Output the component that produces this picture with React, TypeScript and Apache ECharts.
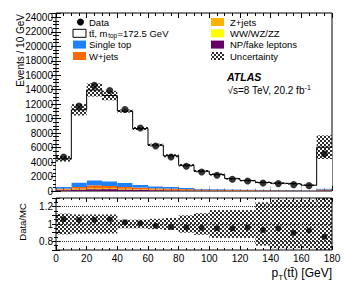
import React, { useEffect, useRef } from "react";
import * as echarts from "echarts";

const binEdges = [0, 10, 20, 30, 40, 50, 60, 70, 80, 90, 100, 110, 120, 130, 140, 150, 160, 170, 180];
const dataEvents = [4700, 11740, 14600, 13900, 11270, 8700, 6220, 4700, 3410, 2620, 2170, 1620, 1380, 1100, 1020, 880, 740, 5160];
const ttbar = [3900, 10060, 12480, 11850, 9940, 7800, 5700, 4320, 3130, 2440, 2020, 1475, 1240, 1000, 915, 840, 680, 5720];
const singleTop = [220, 610, 690, 650, 560, 360, 280, 220, 170, 100, 90, 80, 70, 70, 60, 50, 40, 122];
const wJets = [140, 235, 400, 300, 245, 238, 180, 172, 124, 95, 81, 76, 64, 52, 50, 48, 45, 60];
const zJets = [60, 100, 120, 110, 90, 70, 60, 50, 40, 30, 25, 20, 18, 15, 12, 10, 8, 40];
const diboson = [10, 15, 20, 20, 15, 12, 10, 8, 6, 5, 4, 4, 3, 3, 3, 2, 2, 8];
const npFake = [120, 200, 250, 260, 200, 150, 120, 100, 80, 70, 60, 50, 45, 40, 35, 30, 25, 100];
const mcRelUnc = [0.085, 0.07, 0.065, 0.05, 0.02, 0.025, 0.03, 0.045, 0.05, 0.06, 0.07, 0.07, 0.07, 0.1, 0.12, 0.12, 0.12, 0.27];
const ratioRelUnc = [0.12, 0.11, 0.11, 0.11, 0.05, 0.05, 0.06, 0.07, 0.1, 0.125, 0.16, 0.16, 0.16, 0.25, 0.28, 0.28, 0.28, 0.4];
const ratioTickLabels = ["0.8", "1", "1.2"];

const categories = binEdges.slice(0, -1).map((e, i) => `${e}-${binEdges[i + 1]}`);

const COL_SINGLE = "#1f80ff";
const COL_W = "#ff6a00";
const COL_Z = "#ffb200";
const COL_VV = "#ffff00";
const COL_NP = "#660066";
const FONT = "Liberation Sans, Arial, DejaVu Sans, sans-serif";

function makeHatch() {
  const c = document.createElement("canvas");
  c.width = 4;
  c.height = 4;
  const ctx = c.getContext("2d")!;
  ctx.fillStyle = "rgba(0,0,0,0.82)";
  ctx.fillRect(0, 0, 2, 2);
  ctx.fillRect(2, 2, 2, 2);
  return { image: c.toDataURL(), repeat: "repeat", imageWidth: 4, imageHeight: 4 };
}

export default function App() {
  const ref = useRef<HTMLDivElement>(null);
  useEffect(() => {
    if (!ref.current) return;
    const chart = echarts.init(ref.current, undefined, { renderer: "svg" });
    const hatch: any = makeHatch();
    const mcTotal = ttbar.map((t, i) => t + singleTop[i] + wJets[i] + zJets[i] + diboson[i] + npFake[i]);
    const ratio = dataEvents.map((d, i) => d / mcTotal[i]);
    const stepData: number[][] = mcTotal.map((v, i) => [binEdges[i], v]);
    stepData.push([binEdges[binEdges.length - 1], mcTotal[mcTotal.length - 1]]);

    const tickCommon = (len: number, mlen: number, split: number) => ({
      axisTick: { show: true, inside: true, length: len, lineStyle: { color: "#000", width: 1 } },
      minorTick: { show: true, splitNumber: split, length: mlen, lineStyle: { color: "#000", width: 1 } },
      splitLine: { show: false },
      axisLine: { show: false },
    });
    const hiddenCat = (grid: number) => ({
      type: "category", gridIndex: grid, data: categories, show: false, boundaryGap: true,
    });
    const xVal = (grid: number, pos: string, labels: boolean, len: number, mlen: number) => ({
      type: "value", gridIndex: grid, position: pos, min: 0, max: 180, interval: 20,
      ...tickCommon(len, mlen, 4),
      axisLabel: { show: labels, color: "#000", fontSize: 10, fontFamily: FONT, margin: 3 },
    });
    const barBase = (name: string, data: number[], color: any, stack: string, xi: number, yi: number) => ({
      name, type: "bar", data, stack, xAxisIndex: xi, yAxisIndex: yi,
      barCategoryGap: "0%", barWidth: "100%", itemStyle: { color }, silent: true,
    });

    const legendRows = [22, 33.3, 44.6, 56];
    const lx = 73, rx = 211, bw = 13, bh = 8;
    const txt = (x: number, y: number, text: string, extra: any = {}) => ({
      type: "text", x, y,
      style: { text, fill: "#000", font: `9.5px ${FONT}`, textVerticalAlign: "middle", ...extra },
    });
    const box = (x: number, y: number, fill: any, stroke?: string) => ({
      type: "rect", shape: { x, y: y - bh / 2, width: bw, height: bh },
      style: { fill, stroke: stroke || null, lineWidth: stroke ? 1 : 0 },
    });

    const option: any = {
      animation: false,
      grid: [
        { left: 56, top: 13, width: 276, height: 178, show: true, borderColor: "#000", borderWidth: 1, backgroundColor: "#fff" },
        { left: 56, top: 198, width: 276, height: 52, show: true, borderColor: "#000", borderWidth: 1, backgroundColor: "#fff" },
      ],
      xAxis: [
        hiddenCat(0),
        hiddenCat(0),
        xVal(0, "bottom", false, 5, 3),
        xVal(0, "top", false, 5, 3),
        hiddenCat(1),
        xVal(1, "bottom", true, 4, 2),
        xVal(1, "top", false, 4, 2),
      ],
      yAxis: [
        {
          type: "value", gridIndex: 0, position: "left", min: 0, max: 24600, interval: 2000,
          ...tickCommon(5, 3, 4),
          axisLabel: {
            color: "#000", fontSize: 10, fontFamily: FONT, margin: 3,
            formatter: (v: number) => (v % 2000 === 0 && v <= 24000 ? String(v) : ""),
          },
        },
        {
          type: "value", gridIndex: 0, position: "right", min: 0, max: 24600, interval: 2000,
          ...tickCommon(5, 3, 4), axisLabel: { show: false },
        },
        {
          type: "value", gridIndex: 1, position: "left", min: 0.7, max: 1.3, interval: 0.1,
          ...tickCommon(4, 2, 2),
          axisLabel: {
            color: "#000", fontSize: 10, fontFamily: FONT, margin: 3,
            formatter: (v: number) => {
              const r = Math.round(v * 10) / 10;
              const s = r === 1 ? "1" : r.toFixed(1);
              return ratioTickLabels.includes(s) ? s : "";
            },
          },
        },
        {
          type: "value", gridIndex: 1, position: "right", min: 0.7, max: 1.3, interval: 0.1,
          ...tickCommon(4, 2, 2), axisLabel: { show: false },
        },
      ],
      series: [
        barBase("NP/fake leptons", npFake, COL_NP, "bg", 0, 0),
        barBase("WW/WZ/ZZ", diboson, COL_VV, "bg", 0, 0),
        barBase("Z+jets", zJets, COL_Z, "bg", 0, 0),
        barBase("W+jets", wJets, COL_W, "bg", 0, 0),
        barBase("Single top", singleTop, COL_SINGLE, "bg", 0, 0),
        barBase("ttbar", ttbar, "#fff", "bg", 0, 0),
        barBase("uncBase", mcTotal.map((m, i) => m * (1 - mcRelUnc[i])), "rgba(0,0,0,0)", "unc", 1, 0),
        barBase("Uncertainty", mcTotal.map((m, i) => 2 * m * mcRelUnc[i]), hatch, "unc", 1, 0),
        {
          name: "MC total", type: "line", xAxisIndex: 2, yAxisIndex: 0, data: stepData, step: "end",
          symbol: "none", lineStyle: { color: "#000", width: 1 }, silent: true, z: 5,
        },
        {
          name: "Data", type: "scatter", xAxisIndex: 0, yAxisIndex: 0, data: dataEvents,
          symbol: "circle", symbolSize: 7, itemStyle: { color: "#000" }, silent: true, z: 6,
        },
        barBase("ratioBase", ratioRelUnc.map((u) => 1 - u), "rgba(0,0,0,0)", "runc", 4, 2),
        barBase("ratioUnc", ratioRelUnc.map((u) => 2 * u), hatch, "runc", 4, 2),
        {
          name: "Ratio", type: "scatter", xAxisIndex: 4, yAxisIndex: 2, data: ratio,
          symbol: "circle", symbolSize: 6, itemStyle: { color: "#000" }, silent: true, z: 6,
          markLine: {
            silent: true, symbol: "none", label: { show: false },
            lineStyle: { type: "dotted", color: "#333", width: 1 },
            data: [{ yAxis: 0.8 }, { yAxis: 1 }, { yAxis: 1.2 }],
          },
        },
      ],
      graphic: [
        {
          type: "text", x: 20, y: 14, rotation: Math.PI / 2,
          style: { text: "Events / 10 GeV", fill: "#000", font: `10px ${FONT}`, textAlign: "right", textVerticalAlign: "middle" },
        },
        {
          type: "text", x: 22, y: 222, rotation: Math.PI / 2,
          style: { text: "Data/MC", fill: "#000", font: `9.5px ${FONT}`, textAlign: "center", textVerticalAlign: "middle" },
        },
        { type: "text", x: 271.5, y: 273, style: { text: "p", fill: "#000", font: `12px ${FONT}`, textVerticalAlign: "middle" } },
        { type: "text", x: 278.3, y: 277.5, style: { text: "T", fill: "#000", font: `8px ${FONT}`, textVerticalAlign: "middle" } },
        { type: "text", x: 332, y: 273, style: { text: "(tt\u0304) [GeV]", fill: "#000", font: `12px ${FONT}`, textAlign: "right", textVerticalAlign: "middle" } },
        { type: "circle", shape: { cx: lx + 7.5, cy: legendRows[0], r: 3.5 }, style: { fill: "#000" } },
        txt(89, legendRows[0], "Data"),
        box(lx, legendRows[1], "#fff", "#000"),
        txt(89, legendRows[1], "tt\u0304, m"),
        txt(108.2, legendRows[1] + 2.6, "top", { font: `6.5px ${FONT}` }),
        txt(117.5, legendRows[1], "=172.5 GeV"),
        box(lx, legendRows[2], COL_SINGLE),
        txt(89, legendRows[2], "Single top"),
        box(lx, legendRows[3], COL_W),
        txt(89, legendRows[3], "W+jets"),
        box(rx, legendRows[0], COL_Z),
        txt(230, legendRows[0], "Z+jets"),
        box(rx, legendRows[1], COL_VV),
        txt(230, legendRows[1], "WW/WZ/ZZ"),
        box(rx, legendRows[2], COL_NP),
        txt(230, legendRows[2], "NP/fake leptons"),
        box(rx, legendRows[3], hatch),
        txt(230, legendRows[3], "Uncertainty"),
        txt(227, 77, "ATLAS", { font: `italic bold 10.5px ${FONT}` }),
        {
          type: "text", x: 227.5, y: 89.5,
          style: {
            text: "{a|\u221As=8 TeV, 20.2 fb}{b|-1}",
            textVerticalAlign: "middle",
            rich: {
              a: { fontSize: 10, fontFamily: FONT, fill: "#000", color: "#000", verticalAlign: "bottom", lineHeight: 12 },
              b: { fontSize: 7, fontFamily: FONT, fill: "#000", color: "#000", verticalAlign: "top", lineHeight: 8 },
            },
          },
        },
      ],
    };
    chart.setOption(option);
    return () => chart.dispose();
  }, []);
  return (
    <div
      ref={ref}
      style={{ position: "fixed", left: 0, top: 0, width: 349, height: 287, background: "#fff" }}
    />
  );
}
